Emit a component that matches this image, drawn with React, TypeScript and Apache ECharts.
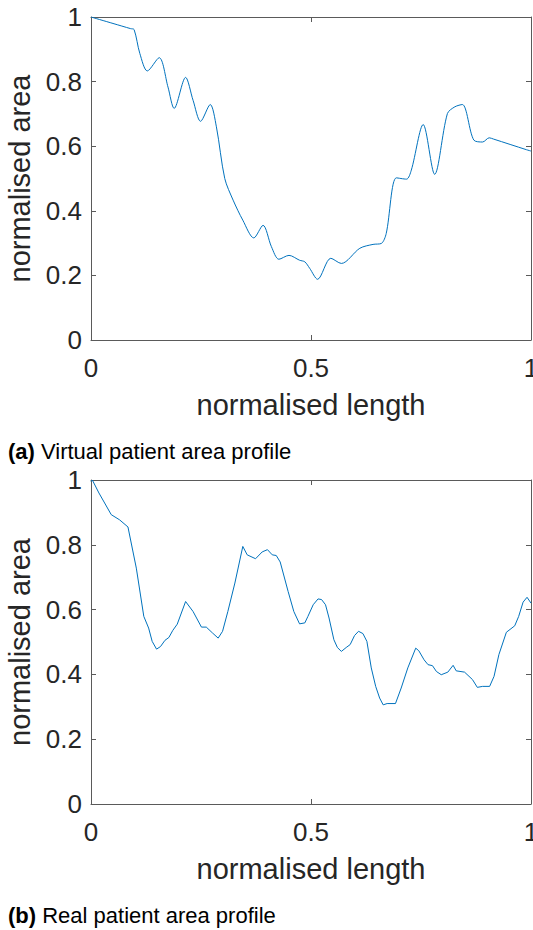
import React, { useEffect, useRef } from "react";
import * as echarts from "echarts";

// (a) Virtual patient area profile
const virtualX = [0, 0.05, 0.09, 0.098, 0.111, 0.128, 0.155, 0.175, 0.189, 0.215, 0.232, 0.249, 0.271, 0.285, 0.304, 0.323, 0.345, 0.37, 0.391, 0.41, 0.427, 0.45, 0.474, 0.486, 0.497, 0.515, 0.545, 0.569, 0.611, 0.641, 0.66, 0.671, 0.694, 0.717, 0.728, 0.755, 0.781, 0.81, 0.827, 0.844, 0.87, 0.89, 0.905, 0.915, 0.99, 1.0];
const virtualY = [1.0, 0.98, 0.964, 0.961, 0.887, 0.833, 0.874, 0.783, 0.717, 0.813, 0.742, 0.677, 0.729, 0.66, 0.5, 0.433, 0.371, 0.316, 0.355, 0.289, 0.25, 0.262, 0.247, 0.242, 0.222, 0.188, 0.253, 0.237, 0.284, 0.296, 0.299, 0.33, 0.502, 0.498, 0.526, 0.667, 0.513, 0.701, 0.722, 0.729, 0.619, 0.613, 0.626, 0.622, 0.589, 0.585];

// (b) Real patient area profile
const realX = [0, 0.003, 0.018, 0.031, 0.046, 0.065, 0.084, 0.103, 0.12, 0.131, 0.139, 0.149, 0.158, 0.168, 0.177, 0.186, 0.196, 0.215, 0.232, 0.251, 0.262, 0.276, 0.289, 0.299, 0.311, 0.327, 0.345, 0.355, 0.374, 0.389, 0.401, 0.412, 0.421, 0.43, 0.448, 0.461, 0.474, 0.486, 0.493, 0.505, 0.516, 0.524, 0.533, 0.541, 0.552, 0.56, 0.569, 0.58, 0.589, 0.599, 0.608, 0.618, 0.627, 0.637, 0.647, 0.656, 0.664, 0.673, 0.692, 0.705, 0.72, 0.738, 0.745, 0.757, 0.766, 0.776, 0.785, 0.796, 0.811, 0.823, 0.83, 0.849, 0.867, 0.878, 0.89, 0.906, 0.916, 0.927, 0.944, 0.963, 0.972, 0.982, 0.991, 1.0];
const realY = [0.995, 1.0, 0.96, 0.929, 0.893, 0.877, 0.855, 0.728, 0.579, 0.543, 0.502, 0.478, 0.486, 0.505, 0.514, 0.536, 0.555, 0.625, 0.594, 0.546, 0.546, 0.528, 0.512, 0.533, 0.594, 0.682, 0.795, 0.769, 0.757, 0.778, 0.785, 0.769, 0.767, 0.747, 0.656, 0.594, 0.556, 0.559, 0.579, 0.615, 0.633, 0.631, 0.615, 0.574, 0.507, 0.483, 0.471, 0.483, 0.492, 0.52, 0.533, 0.526, 0.502, 0.42, 0.363, 0.327, 0.306, 0.31, 0.31, 0.358, 0.42, 0.481, 0.473, 0.445, 0.43, 0.427, 0.409, 0.399, 0.407, 0.428, 0.411, 0.407, 0.384, 0.36, 0.363, 0.363, 0.394, 0.461, 0.53, 0.55, 0.579, 0.623, 0.638, 0.62];

const captionA = ["(a)", "Virtual patient area profile"];
const captionB = ["(b)", "Real patient area profile"];
const xAxisName = "normalised length";
const yAxisName = "normalised area";

const FONT = "Liberation Sans, Arial, Helvetica, sans-serif";
const TEXT = "#262626";
const AXIS = "#5a5a5a";
const LINE = "#0072BD";

const zip = (xs: number[], ys: number[]) => xs.map((x, i) => [x, ys[i]]);

export default function App() {
  const ref = useRef<HTMLDivElement>(null);
  useEffect(() => {
    if (!ref.current) return;
    const chart = echarts.init(ref.current, null, { renderer: "svg" });
    const grids = [
      { left: 91, top: 17, width: 440, height: 323, outerBoundsMode: "none", containLabel: false },
      { left: 91, top: 480, width: 440, height: 324, outerBoundsMode: "none", containLabel: false },
    ];
    const xAxes: any[] = [];
    const yAxes: any[] = [];
    grids.forEach((_, gi) => {
      xAxes.push({
        type: "value",
        gridIndex: gi,
        position: "bottom",
        min: 0,
        max: 1,
        interval: 0.5,
        name: xAxisName,
        nameLocation: "middle",
        nameGap: 50,
        nameTextStyle: { fontFamily: FONT, fontSize: 29, color: TEXT },
        axisLine: { show: true, onZero: false, lineStyle: { color: AXIS, width: 1 } },
        axisTick: { show: true, inside: true, length: 5, lineStyle: { color: AXIS } },
        axisLabel: { show: true, margin: 15, fontFamily: FONT, fontSize: 26, color: TEXT, showMinLabel: true, showMaxLabel: true },
        splitLine: { show: false },
      });
      xAxes.push({
        type: "value",
        gridIndex: gi,
        position: "top",
        min: 0,
        max: 1,
        interval: 0.5,
        axisLine: { show: true, onZero: false, lineStyle: { color: AXIS, width: 1 } },
        axisTick: { show: true, inside: true, length: 5, lineStyle: { color: AXIS } },
        axisLabel: { show: false },
        splitLine: { show: false },
      });
      yAxes.push({
        type: "value",
        gridIndex: gi,
        position: "left",
        min: 0,
        max: 1,
        interval: 0.2,
        name: yAxisName,
        nameLocation: "middle",
        nameRotate: 90,
        nameGap: 55,
        nameTextStyle: { fontFamily: FONT, fontSize: 29, color: TEXT },
        axisLine: { show: true, onZero: false, lineStyle: { color: AXIS, width: 1 } },
        axisTick: { show: true, inside: true, length: 5, lineStyle: { color: AXIS } },
        axisLabel: { show: true, margin: 9, fontFamily: FONT, fontSize: 26, color: TEXT, showMinLabel: true, showMaxLabel: true },
        splitLine: { show: false },
      });
      yAxes.push({
        type: "value",
        gridIndex: gi,
        position: "right",
        min: 0,
        max: 1,
        interval: 0.2,
        axisLine: { show: true, onZero: false, lineStyle: { color: AXIS, width: 1 } },
        axisTick: { show: true, inside: true, length: 5, lineStyle: { color: AXIS } },
        axisLabel: { show: false },
        splitLine: { show: false },
      });
    });
    const capStyle = (c: string[]) => ({
      text: `{b|${c[0]}} ${c[1]}`,
      fontFamily: FONT,
      fontSize: 22,
      fill: "#000",
      rich: { b: { fontFamily: FONT, fontSize: 22, fontWeight: "bold", fill: "#000" } },
      textVerticalAlign: "middle",
    });
    chart.setOption({
      animation: false,
      backgroundColor: "#fff",
      grid: grids,
      xAxis: xAxes,
      yAxis: yAxes,
      series: [
        {
          type: "line",
          xAxisIndex: 0,
          yAxisIndex: 0,
          data: zip(virtualX, virtualY),
          showSymbol: false,
          smooth: 0.3,
          lineStyle: { color: LINE, width: 1 },
        },
        {
          type: "line",
          xAxisIndex: 2,
          yAxisIndex: 2,
          data: zip(realX, realY),
          showSymbol: false,
          lineStyle: { color: LINE, width: 1 },
        },
      ],
      graphic: [
        { type: "text", left: 8, top: 440, style: capStyle(captionA) },
        { type: "text", left: 8, top: 904, style: capStyle(captionB) },
      ],
    });
    return () => chart.dispose();
  }, []);
  return (
    <div
      ref={ref}
      style={{ position: "fixed", left: 0, top: 0, width: 533, height: 930 }}
    />
  );
}
